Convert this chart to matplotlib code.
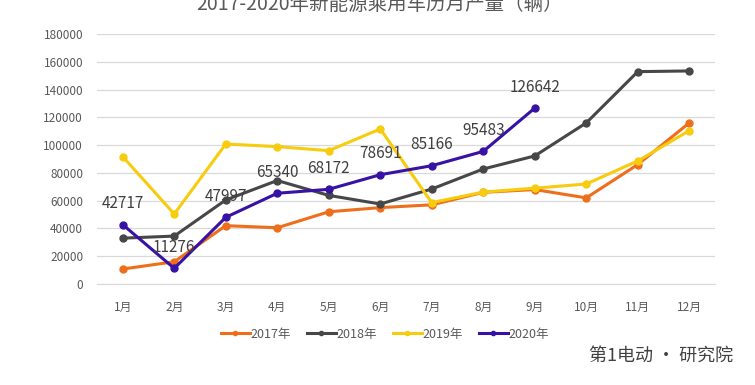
import numpy as np
import matplotlib.pyplot as plt

plt.rcParams['font.family'] = ['Noto Sans CJK SC', 'DejaVu Sans']

# ---- data ----
months = ['1月', '2月', '3月', '4月', '5月', '6月', '7月', '8月', '9月', '10月', '11月', '12月']
y2017 = [10800, 16000, 42000, 40500, 52000, 55000, 57000, 66000, 68000, 62000, 86000, 116000]
y2018 = [33000, 34500, 60500, 74500, 63800, 57600, 68400, 82800, 92200, 116000, 152900, 153400]
y2019 = [91700, 50400, 100800, 98900, 96000, 111600, 58600, 66200, 69000, 72000, 88600, 110400]
y2020 = [42717, 11276, 47997, 65340, 68172, 78691, 85166, 95483, 126642]

series = [
    ('2017年', y2017, '#EE6E1B'),
    ('2018年', y2018, '#474747'),
    ('2019年', y2019, '#F7CC0E'),
    ('2020年', y2020, '#3712A4'),
]

fig = plt.figure(figsize=(7.55, 3.85), dpi=100)
ax = fig.add_axes([97 / 755, 101 / 385, 618 / 755, 250 / 385])

x = np.arange(len(months))
for name, vals, col in series:
    ax.plot(x[:len(vals)], vals, color=col, lw=2.2, marker='o', ms=5,
            label=name, zorder=3)

# labels on the 2020 line
for i, v in enumerate(y2020):
    ax.annotate(str(v), (i, v), xytext=(0, 9), textcoords='offset points',
                ha='center', va='bottom', fontsize=11, color='#404040', zorder=4)

ax.set_xlim(-0.5, 11.5)
ax.set_ylim(0, 180000)
ax.set_yticks(np.arange(0, 180001, 20000))
ax.set_xticks(x)
ax.set_xticklabels(months)
ax.grid(axis='y', color='#D9D9D9', lw=0.9)
ax.set_axisbelow(True)
for s in ['top', 'right', 'left']:
    ax.spines[s].set_visible(False)
ax.spines['bottom'].set_color('#D9D9D9')
ax.tick_params(axis='both', length=0, labelsize=8.5, colors='#595959')
ax.tick_params(axis='x', pad=12)
ax.tick_params(axis='y', pad=10)

leg = ax.legend(loc='upper center', bbox_to_anchor=(0.466, -0.13), ncol=4,
                frameon=False, fontsize=9, handlelength=2.3, handletextpad=0.05,
                columnspacing=1.3, markerscale=0.6)
for t in leg.get_texts():
    t.set_color('#595959')

fig.text(0.503, 1 - 4 / 385, '2017-2020年新能源乘用车历月产量（辆）',
         ha='center', va='center', fontsize=14, color='#595959')

# source mark bottom right
fig.text(0.875, 1 - 356 / 385, '第1电动 · 研究院', ha='center', va='center',
         fontsize=13, color='#404040')

fig.savefig('out.png', dpi=100)
